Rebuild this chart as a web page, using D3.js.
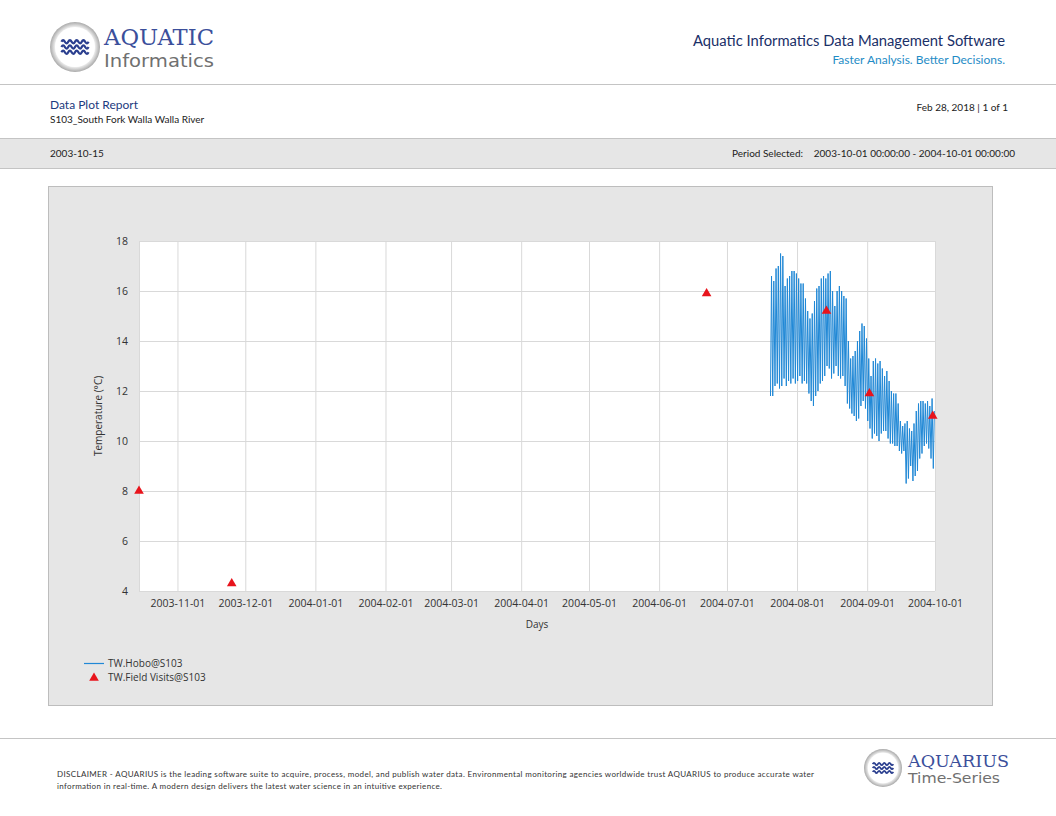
<!DOCTYPE html>
<html>
<head>
<meta charset="utf-8">
<script src="https://cdn.jsdelivr.net/npm/d3@7"></script>
<style>
  body { margin: 0; background: #fff; }
  svg { display: block; }
  .hdr { font-family: Lato, "Open Sans", sans-serif; }
  .chart text { font-family: "Open Sans", "Noto Sans", sans-serif; }
</style>
</head>
<body>
<div id="page"></div>
<script>
// hobo logger, daily low / high readings (deg C), one pair per day from the first day
const hoboStart = '2004-07-20'
const hoboMax = [16.6, 16.4, 16.9, 17.0, 17.5, 17.4, 16.2, 16.5, 16.6, 16.8,
  16.8, 16.7, 16.5, 16.3, 16.3, 15.7, 15.2, 14.9, 15.1, 15.6,
  16.1, 16.2, 16.5, 16.6, 16.5, 16.7, 16.8, 16.0, 15.4, 16.0,
  16.2, 16.0, 15.8, 15.7, 14.0, 13.3, 13.4, 13.6, 14.0, 14.4,
  14.7, 14.6, 14.1, 13.3, 12.6, 13.2, 13.3, 13.1, 13.2, 12.9,
  12.6, 12.8, 12.4, 12.0, 11.9, 11.9, 11.5, 10.8, 10.6, 10.7,
  10.8, 10.5, 10.4, 10.7, 11.2, 11.5, 11.6, 11.6, 11.5, 11.6,
  11.4, 11.7, 11.2]
const hoboMin = [11.8, 11.8, 12.2, 12.3, 12.1, 12.2, 12.5, 12.2, 12.4, 12.3,
  12.5, 12.3, 12.4, 12.6, 12.3, 12.4, 12.3, 11.9, 11.6, 11.4,
  11.8, 12.0, 12.3, 12.4, 12.6, 13.0, 12.9, 12.5, 12.7, 13.0,
  12.6, 12.5, 12.6, 12.2, 11.5, 11.3, 11.1, 11.0, 10.8, 10.9,
  11.4, 11.6, 11.3, 10.8, 10.5, 10.1, 10.3, 10.2, 10.0, 10.3,
  10.4, 10.4, 10.1, 9.9, 9.9, 9.8, 9.8, 9.6, 9.5, 9.6,
  8.3, 8.5, 9.0, 8.4, 8.6, 8.8, 9.3, 9.5, 9.8, 9.9,
  9.7, 9.3, 8.9]

// field visits
const visitDates = ['2003-10-15', '2003-11-25', '2004-06-22', '2004-08-14', '2004-09-02', '2004-09-30']
const visitValues = [8.0, 4.3, 15.9, 15.2, 11.9, 11.0]

const xTicks = ['2003-11-01', '2003-12-01', '2004-01-01', '2004-02-01', '2004-03-01', '2004-04-01',
  '2004-05-01', '2004-06-01', '2004-07-01', '2004-08-01', '2004-09-01', '2004-10-01']
const yTicks = [4, 6, 8, 10, 12, 14, 16, 18]

const parse = d3.utcParse('%Y-%m-%d')

const svg = d3.select('#page').append('svg')
  .attr('width', 1056)
  .attr('height', 816)

// ---- header ----
function drawLogo (g, r) {
  const ring = g.append('defs').append('radialGradient').attr('id', 'ring' + r)
  ring.append('stop').attr('offset', '80%').attr('stop-color', '#eeeeee')
  ring.append('stop').attr('offset', '100%').attr('stop-color', '#a9a9a9')
  g.append('circle').attr('r', r).attr('fill', 'url(#ring' + r + ')')
  g.append('circle').attr('r', r * 0.8).attr('fill', '#fff')
  const s = r / 24
  for (let k = 0; k < 3; k++) {
    const y0 = (-5 + k * 5) * s
    let p = 'M' + (-13 * s) + ',' + y0
    for (let j = 0; j < 4; j++) {
      const x0 = (-13 + j * 6.5) * s
      p += ' Q' + (x0 + 1.6 * s) + ',' + (y0 - 3 * s) + ' ' + (x0 + 3.25 * s) + ',' + y0
      p += ' Q' + (x0 + 4.9 * s) + ',' + (y0 + 3 * s) + ' ' + (x0 + 6.5 * s) + ',' + y0
    }
    g.append('path').attr('d', p).attr('fill', 'none')
      .attr('stroke', '#2b3f8f').attr('stroke-width', 2.2 * s)
  }
}

drawLogo(svg.append('g').attr('transform', 'translate(75,47)'), 25)
svg.append('text').attr('x', 104).attr('y', 45)
  .style('font-family', '"DejaVu Serif", serif').style('font-size', '22px')
  .attr('fill', '#3b4f9b').attr('textLength', 110).attr('lengthAdjust', 'spacingAndGlyphs')
  .text('AQUATIC')
svg.append('text').attr('x', 104).attr('y', 67)
  .style('font-family', '"DejaVu Sans", sans-serif').style('font-size', '17.5px')
  .attr('fill', '#707070').attr('textLength', 110).attr('lengthAdjust', 'spacingAndGlyphs')
  .text('Informatics')

svg.append('text').attr('class', 'hdr').attr('x', 1005).attr('y', 46)
  .attr('text-anchor', 'end').style('font-size', '14.5px').attr('fill', '#1a3068')
  .attr('textLength', 312).attr('lengthAdjust', 'spacingAndGlyphs')
  .text('Aquatic Informatics Data Management Software')
svg.append('text').attr('class', 'hdr').attr('x', 1005).attr('y', 64)
  .attr('text-anchor', 'end').style('font-size', '12px').attr('fill', '#1f8cc6')
  .text('Faster Analysis. Better Decisions.')

svg.append('line').attr('x1', 0).attr('x2', 1056).attr('y1', 84.5).attr('y2', 84.5)
  .attr('stroke', '#c4c4c4')

svg.append('text').attr('class', 'hdr').attr('x', 50).attr('y', 109)
  .style('font-size', '12px').attr('fill', '#1c3a7e').text('Data Plot Report')
svg.append('text').attr('class', 'hdr').attr('x', 50).attr('y', 123)
  .style('font-size', '10px').attr('fill', '#222').text('S103_South Fork Walla Walla River')
svg.append('text').attr('class', 'hdr').attr('x', 1008).attr('y', 111)
  .attr('text-anchor', 'end').style('font-size', '10px').attr('fill', '#222')
  .text('Feb 28, 2018 | 1 of 1')

svg.append('rect').attr('x', -1).attr('y', 138.5).attr('width', 1058).attr('height', 30)
  .attr('fill', '#e6e6e6').attr('stroke', '#c4c4c4')
svg.append('text').attr('class', 'hdr').attr('x', 50).attr('y', 157)
  .style('font-size', '10px').attr('fill', '#222').text('2003-10-15')
svg.append('text').attr('class', 'hdr').attr('x', 803).attr('y', 157)
  .attr('text-anchor', 'end').style('font-size', '10px').attr('fill', '#222').text('Period Selected:')
svg.append('text').attr('class', 'hdr').attr('x', 1015).attr('y', 157)
  .attr('text-anchor', 'end').style('font-size', '10px').attr('fill', '#222')
  .text('2003-10-01 00:00:00 - 2004-10-01 00:00:00')

// ---- chart ----
const chart = svg.append('g').attr('class', 'chart')
chart.append('rect').attr('x', 48.5).attr('y', 186.5).attr('width', 944).attr('height', 519)
  .attr('fill', '#e6e6e6').attr('stroke', '#bdbdbd')

const margin = { top: 241, left: 139 }
const width = 796
const height = 350

const x = d3.scaleUtc()
  .domain([parse('2003-10-15'), parse('2004-10-01')])
  .range([0, width])
const y = d3.scaleLinear().domain([4, 18]).range([height, 0])

const plot = chart.append('g').attr('transform', `translate(${margin.left},${margin.top})`)
plot.append('rect').attr('width', width).attr('height', height).attr('fill', '#fff')

// gridlines
plot.append('g').attr('class', 'grid-y')
  .call(d3.axisLeft(y).tickValues(yTicks).tickSize(-width).tickFormat(''))
  .call(g => g.select('.domain').remove())
  .call(g => g.selectAll('line').attr('stroke', '#d9d9d9'))
plot.append('g').attr('class', 'grid-x')
  .call(d3.axisBottom(x).tickValues(xTicks.map(parse)).tickSize(height).tickFormat(''))
  .call(g => g.select('.domain').remove())
  .call(g => g.selectAll('line').attr('stroke', '#d9d9d9'))
plot.append('line').attr('x1', 0.5).attr('x2', 0.5).attr('y1', 0).attr('y2', height)
  .attr('stroke', '#d9d9d9')

// axes labels
plot.append('g').attr('transform', 'translate(-8,0)')
  .call(d3.axisLeft(y).tickValues(yTicks).tickSize(0).tickPadding(3))
  .call(g => g.select('.domain').remove())
  .call(g => g.selectAll('text').style('font-size', '10.5px').attr('fill', '#333'))
plot.append('g').attr('transform', `translate(0,${height + 6})`)
  .call(d3.axisBottom(x).tickValues(xTicks.map(parse)).tickSize(0).tickPadding(3)
    .tickFormat(d3.utcFormat('%Y-%m-%d')))
  .call(g => g.select('.domain').remove())
  .call(g => g.selectAll('text').style('font-size', '10.5px').attr('fill', '#333'))

plot.append('text').attr('x', 398).attr('y', height + 37)
  .attr('text-anchor', 'middle').style('font-size', '10px').attr('fill', '#333')
  .text('Days')
plot.append('text').attr('transform', `translate(-37,${height / 2}) rotate(-90)`)
  .attr('text-anchor', 'middle').style('font-size', '10px').attr('fill', '#333')
  .text('Temperature (°C)')

// hobo series
const day0 = parse(hoboStart)
const hobo = []
hoboMax.forEach((hi, i) => {
  const d = d3.utcDay.offset(day0, i)
  hobo.push({ t: d3.utcHour.offset(d, 6), v: hoboMin[i] })
  hobo.push({ t: d3.utcHour.offset(d, 17), v: hi })
})
plot.append('path').datum(hobo)
  .attr('fill', 'none').attr('stroke', '#2088d6').attr('stroke-width', 1)
  .attr('d', d3.line().x(d => x(d.t)).y(d => y(d.v)))

// field visits
const tri = d3.symbol().type(d3.symbolTriangle).size(40)
plot.selectAll('.visit').data(visitDates)
  .enter().append('path').attr('class', 'visit')
  .attr('transform', (d, i) => `translate(${x(parse(d))},${y(visitValues[i])})`)
  .attr('d', tri).attr('fill', '#e8141c')

// legend
const legend = chart.append('g').attr('transform', 'translate(84,663)')
legend.append('line').attr('x1', 0).attr('x2', 20).attr('y1', 0.5).attr('y2', 0.5)
  .attr('stroke', '#2088d6').attr('stroke-width', 1.2)
legend.append('text').attr('x', 24).attr('y', 4).style('font-size', '10px').attr('fill', '#333')
  .text('TW.Hobo@S103')
legend.append('path').attr('transform', 'translate(10,15)').attr('d', tri).attr('fill', '#e8141c')
legend.append('text').attr('x', 24).attr('y', 18).style('font-size', '10px').attr('fill', '#333')
  .text('TW.Field Visits@S103')

// ---- footer ----
svg.append('line').attr('x1', 0).attr('x2', 1056).attr('y1', 738.5).attr('y2', 738.5)
  .attr('stroke', '#c4c4c4')
svg.append('text').attr('class', 'hdr').attr('x', 57).attr('y', 777)
  .style('font-size', '8px').attr('fill', '#333').attr('textLength', 757)
  .text('DISCLAIMER - AQUARIUS is the leading software suite to acquire, process, model, and publish water data. Environmental monitoring agencies worldwide trust AQUARIUS to produce accurate water')
svg.append('text').attr('class', 'hdr').attr('x', 57).attr('y', 789)
  .style('font-size', '8px').attr('fill', '#333').attr('textLength', 385)
  .text('information in real-time. A modern design delivers the latest water science in an intuitive experience.')

drawLogo(svg.append('g').attr('transform', 'translate(883,768)'), 19)
svg.append('text').attr('x', 908).attr('y', 767)
  .style('font-family', '"DejaVu Serif", serif').style('font-size', '16px')
  .attr('fill', '#3b4f9b').attr('textLength', 101).attr('lengthAdjust', 'spacingAndGlyphs')
  .text('AQUARIUS')
svg.append('text').attr('x', 908).attr('y', 783)
  .style('font-family', '"DejaVu Sans", sans-serif').style('font-size', '14px')
  .attr('fill', '#707070').attr('textLength', 92).attr('lengthAdjust', 'spacingAndGlyphs')
  .text('Time-Series')
</script>
</body>
</html>
